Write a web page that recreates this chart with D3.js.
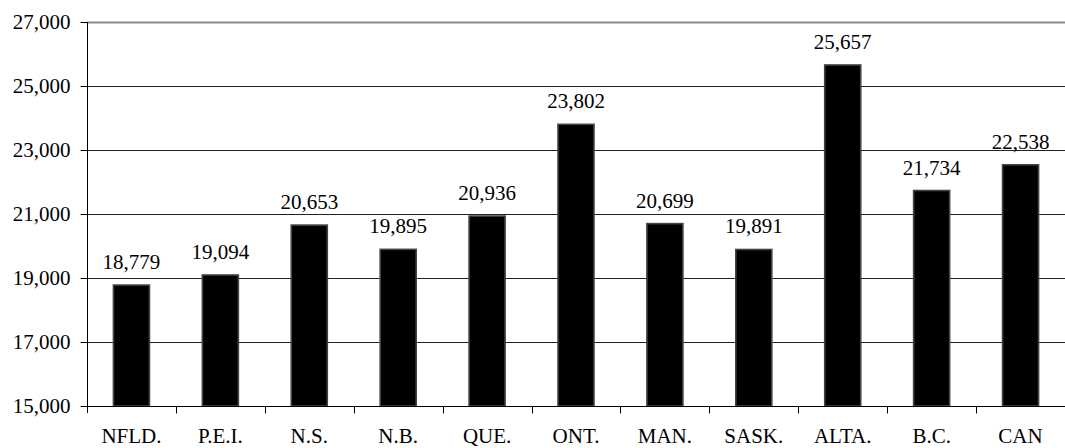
<!DOCTYPE html>
<html>
<head>
<meta charset="utf-8">
<script src="https://cdn.jsdelivr.net/npm/d3@7"></script>
<style>
  html, body { margin: 0; padding: 0; background: #fff; }
  svg { display: block; }
  text { font-family: "Liberation Serif", "Times New Roman", serif; fill: #000; }
</style>
</head>
<body>
<svg id="chart" width="1065" height="448"></svg>
<script>
// Provinces and national figure
const categories = ["NFLD.", "P.E.I.", "N.S.", "N.B.", "QUE.", "ONT.", "MAN.", "SASK.", "ALTA.", "B.C.", "CAN"];
const values = [18779, 19094, 20653, 19895, 20936, 23802, 20699, 19891, 25657, 21734, 22538];
const yTicks = [15000, 17000, 19000, 21000, 23000, 25000, 27000];

const W = 1065, H = 448;
const margin = { left: 87, right: 0, top: 22, bottom: 42 };
const svg = d3.select("#chart");

const x = d3.scaleBand()
  .domain(categories)
  .range([margin.left, W - margin.right])
  .paddingInner(0.595)
  .paddingOuter(0.2975);

const y = d3.scaleLinear()
  .domain([15000, 27000])
  .range([H - margin.bottom, margin.top]);

const fmt = d3.format(",");

// horizontal gridlines
svg.append("g")
  .selectAll("line")
  .data(yTicks.filter(t => t !== 15000))
  .join("line")
  .attr("x1", margin.left)
  .attr("x2", W - margin.right)
  .attr("y1", d => Math.round(y(d)) + 0.5)
  .attr("y2", d => Math.round(y(d)) + 0.5)
  .attr("stroke", d => d === 27000 ? "#8a8a8a" : "#222")
  .attr("stroke-width", d => d === 27000 ? 2 : 1);

// y axis
const yAxis = svg.append("g")
  .attr("transform", `translate(${margin.left + 0.5},0)`)
  .call(d3.axisLeft(y).tickValues(yTicks).tickFormat(fmt).tickSize(7).tickPadding(10));
yAxis.select(".domain").remove();
yAxis.selectAll(".tick line").attr("stroke", "#000");
yAxis.selectAll(".tick text").style("font-size", "21px").style("font-family", "Liberation Serif, serif");
yAxis.selectAll(".tick").attr("transform", d => `translate(0,${Math.round(y(d)) + 0.5})`);

// left axis line, extending slightly below the baseline
svg.append("line")
  .attr("x1", margin.left + 0.5).attr("x2", margin.left + 0.5)
  .attr("y1", margin.top).attr("y2", y(15000) + 7)
  .attr("stroke", "#000");

// bars
svg.append("g")
  .selectAll("rect")
  .data(values)
  .join("rect")
  .attr("x", (d, i) => x(categories[i]))
  .attr("width", x.bandwidth())
  .attr("y", d => y(d))
  .attr("height", d => y(15000) - y(d))
  .attr("fill", "#000")
  .attr("stroke", "#444")
  .attr("stroke-width", 1.6);

// baseline and category ticks
const baseY = Math.round(y(15000)) + 0.5;
svg.append("line")
  .attr("x1", margin.left).attr("x2", W - margin.right)
  .attr("y1", baseY).attr("y2", baseY)
  .attr("stroke", "#000");

svg.append("g")
  .selectAll("line")
  .data(categories.slice(1))
  .join("line")
  .attr("x1", d => Math.round(x(d) - x.step() * x.paddingInner() / 2) + 0.5)
  .attr("x2", d => Math.round(x(d) - x.step() * x.paddingInner() / 2) + 0.5)
  .attr("y1", baseY)
  .attr("y2", baseY + 7)
  .attr("stroke", "#000");

// category labels
svg.append("g")
  .selectAll("text")
  .data(categories)
  .join("text")
  .attr("x", d => x(d) + x.bandwidth() / 2)
  .attr("y", 443)
  .attr("text-anchor", "middle")
  .style("font-size", "21px")
  .text(d => d);

// value labels
svg.append("g")
  .selectAll("text")
  .data(values)
  .join("text")
  .attr("x", (d, i) => x(categories[i]) + x.bandwidth() / 2)
  .attr("y", d => y(d) - 16)
  .attr("text-anchor", "middle")
  .style("font-size", "21px")
  .text(d => fmt(d));
</script>
</body>
</html>
